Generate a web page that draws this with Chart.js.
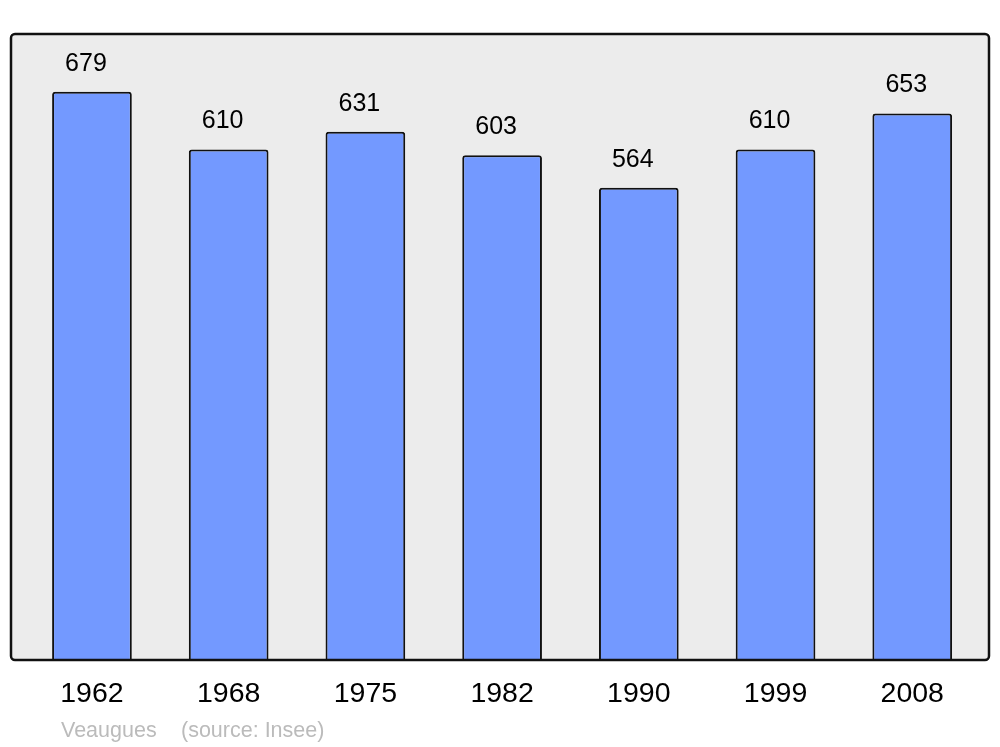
<!DOCTYPE html>
<html>
<head>
<meta charset="utf-8">
<script src="https://cdn.jsdelivr.net/npm/chart.js@4"></script>
<style>
  html, body { margin: 0; padding: 0; background: #fff; }
  #wrap { width: 1000px; height: 747px; }
</style>
</head>
<body>
<div id="wrap"><canvas id="chart"></canvas></div>
<script>
"use strict";
const annees = ["1962", "1968", "1975", "1982", "1990", "1999", "2008"];
const population = [679, 610, 631, 603, 564, 610, 653];
const yMax = 748;
const commune = "Veaugues";
const source = "(source: Insee)";

// cadre gris derriere les barres
const cadre = {
  id: "cadre",
  beforeDatasetsDraw(chart) {
    const ctx = chart.ctx;
    ctx.save();
    ctx.beginPath();
    ctx.roundRect(11, 34, 978, 626, 4);
    ctx.fillStyle = "#ececec";
    ctx.fill();
    ctx.restore();
  },
  afterDatasetsDraw(chart) {
    const ctx = chart.ctx;
    ctx.save();
    ctx.beginPath();
    ctx.roundRect(11, 34, 978, 626, 4);
    ctx.lineWidth = 2.5;
    ctx.strokeStyle = "#111";
    ctx.stroke();

    // valeurs au dessus des barres
    const meta = chart.getDatasetMeta(0);
    ctx.fillStyle = "#000";
    ctx.font = "25px 'Liberation Sans', Arial, sans-serif";
    ctx.textAlign = "center";
    ctx.textBaseline = "middle";
    meta.data.forEach((bar, i) => {
      ctx.fillText(String(population[i]), bar.x - 6, bar.y - 28);
    });

    // legende source
    ctx.fillStyle = "#bbbbbb";
    ctx.font = "21.5px 'Liberation Sans', Arial, sans-serif";
    ctx.textAlign = "left";
    ctx.fillText(commune, 61, 731);
    ctx.fillText(source, 181, 731);
    ctx.restore();
  },
};

const ctx = document.getElementById("chart").getContext("2d");
new Chart(ctx, {
  type: "bar",
  data: {
    labels: annees,
    datasets: [
      {
        data: population,
        backgroundColor: "#7399ff",
        borderColor: "#111",
        borderWidth: 2,
        borderRadius: 3,
        borderSkipped: "bottom",
        barPercentage: 0.583,
        categoryPercentage: 1,
      },
    ],
  },
  options: {
    responsive: true,
    maintainAspectRatio: false,
    animation: false,
    layout: {
      padding: { left: 23.6, right: 19.4, top: 34, bottom: 17.4 },
    },
    scales: {
      x: {
        grid: { display: false, drawTicks: false },
        border: { display: false },
        ticks: {
          color: "#000",
          padding: 18,
          maxRotation: 0,
          font: { family: "'Liberation Sans', Arial, sans-serif", size: 28.5 },
        },
      },
      y: {
        display: false,
        min: 0,
        max: yMax,
      },
    },
    plugins: {
      legend: { display: false },
      tooltip: { enabled: false },
    },
  },
  plugins: [cadre],
});
</script>
</body>
</html>
